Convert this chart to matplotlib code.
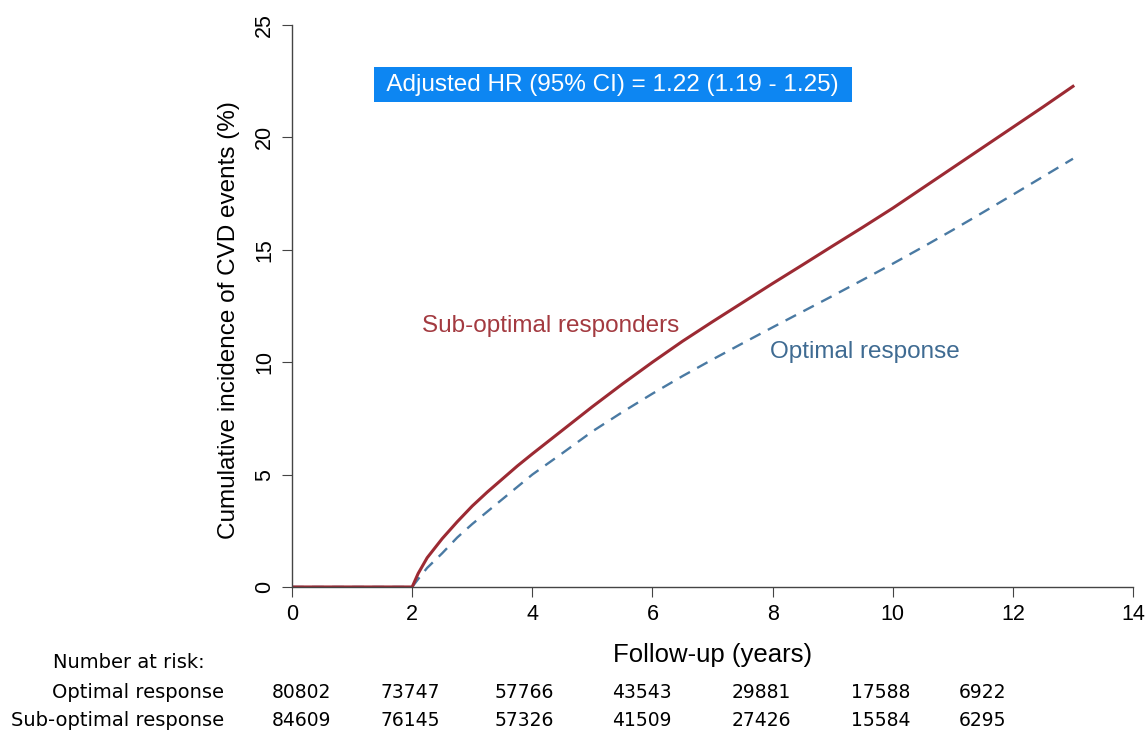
import matplotlib.pyplot as plt

# cumulative incidence (%)
years = [0, 2.0, 2.1, 2.25, 2.5, 2.75, 3.0, 3.25, 3.5, 3.75, 4.0, 4.5, 5.0, 5.5,
         6.0, 6.5, 7.0, 7.5, 8.0, 8.5, 9.0, 9.5, 10.0, 10.5, 11.0, 11.5, 12.0,
         12.5, 13.0]
suboptimal = [0, 0, 0.6, 1.3, 2.15, 2.9, 3.6, 4.22, 4.8, 5.38, 5.92, 6.97, 8.02, 9.03,
              10.0, 10.93, 11.8, 12.65, 13.5, 14.33, 15.17, 16.0, 16.85, 17.75,
              18.65, 19.55, 20.45, 21.35, 22.27]
optimal = [0, 0, 0.35, 0.85, 1.5, 2.2, 2.8, 3.35, 3.9, 4.45, 5.0, 5.95, 6.92, 7.78,
           8.6, 9.38, 10.12, 10.84, 11.55, 12.25, 12.95, 13.66, 14.38, 15.12,
           15.88, 16.66, 17.45, 18.25, 19.05]

risk_labels = ["Optimal response", "Sub-optimal response"]
risk_optimal = [80802, 73747, 57766, 43543, 29881, 17588, 6922]
risk_suboptimal = [84609, 76145, 57326, 41509, 27426, 15584, 6295]
risk_cols = [0.15, 1.97, 3.87, 5.83, 7.82, 9.8, 11.5]

RED = "#9c2a33"
BLUE = "#4a7aa3"

fig = plt.figure(figsize=(11.46, 7.34), dpi=100)
ax = fig.add_axes([0.2548, 0.2003, 0.7339, 0.7657])

ax.plot(years, optimal, color=BLUE, lw=1.7, ls=(0, (5, 3.5)))
ax.plot(years, suboptimal, color=RED, lw=2.2)

ax.set_xlim(0, 14)
ax.set_ylim(0, 25)
ax.set_xticks(range(0, 15, 2))
ax.set_yticks(range(0, 26, 5))
for s in ["top", "right"]:
    ax.spines[s].set_visible(False)
for s in ["left", "bottom"]:
    ax.spines[s].set_color("#444444")
    ax.spines[s].set_linewidth(1.0)
ax.tick_params(axis="both", direction="out", length=7, color="#444444",
               labelsize=15.5, pad=5)
for lab in ax.get_yticklabels():
    lab.set_rotation(90)
    lab.set_va("center")
for lab in ax.get_xticklabels() + ax.get_yticklabels():
    lab.set_family("Liberation Sans")

ax.set_xlabel("Follow-up (years)", fontsize=18.5, family="Liberation Sans", labelpad=13)
ax.set_ylabel("Cumulative incidence of CVD events (%)", fontsize=17.5,
              family="Liberation Sans")
ax.yaxis.set_label_coords(-0.062, 0.475)

ax.text(2.17, 11.6, "Sub-optimal responders", color="#a33a40", fontsize=17.5,
        family="Liberation Sans", va="center")
ax.text(7.95, 10.45, "Optimal response", color="#3f6b92", fontsize=17.5,
        family="Liberation Sans", va="center")

ax.text(5.35, 22.35, " Adjusted HR (95% CI) = 1.22 (1.19 - 1.25) ", color="white",
        fontsize=17.5, family="Liberation Sans", ha="center", va="center",
        bbox=dict(boxstyle="square,pad=0.28", fc="#0d86f2", ec="none"))

# number at risk table
fig.text(53 / 1146, 1 - 663 / 734, "Number at risk:", fontsize=14,
         family="DejaVu Sans", va="center", ha="left")
for row, (lab, vals) in enumerate(zip(risk_labels, [risk_optimal, risk_suboptimal])):
    yfig = 1 - (692 + 29 * row) / 734
    fig.text(224 / 1146, yfig, lab, fontsize=14, family="DejaVu Sans",
             va="center", ha="right")
    for xc, v in zip(risk_cols, vals):
        xfig = fig.transFigure.inverted().transform(ax.transData.transform((xc, 0)))[0]
        fig.text(xfig, yfig, str(v), fontsize=13.5, family="DejaVu Sans",
                 va="center", ha="center")

fig.savefig("out.png", dpi=100)
